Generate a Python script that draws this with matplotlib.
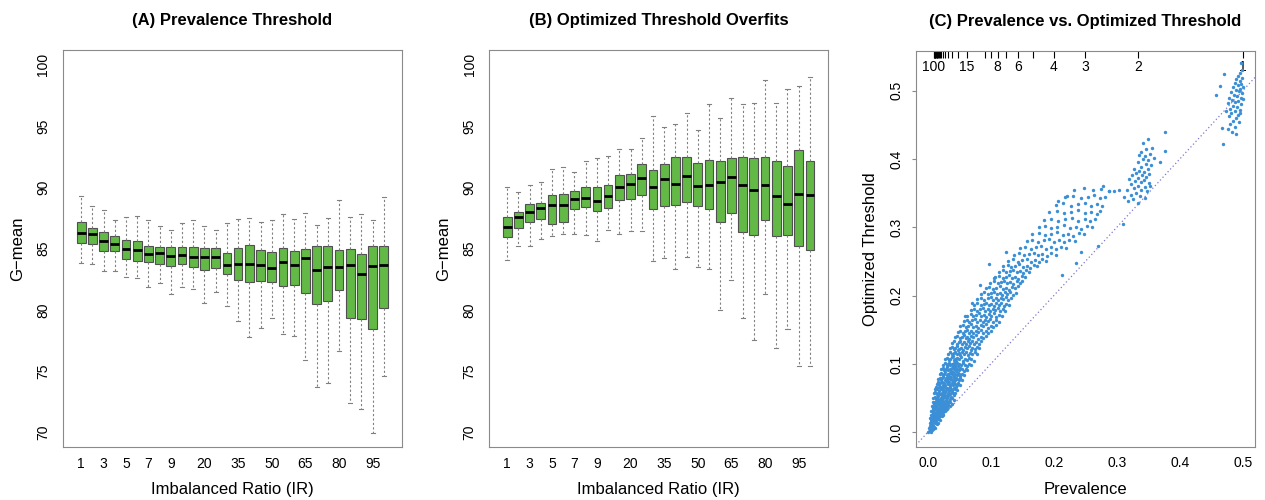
import numpy as np
import matplotlib
matplotlib.use('Agg')
import matplotlib.pyplot as plt

plt.rcParams['font.family'] = ['Liberation Sans', 'DejaVu Sans']

# imbalance ratios, one box per value
ir_values = [1, 2, 3, 4, 5, 6, 7, 8, 9, 10, 15, 20, 25, 30, 35, 40, 45, 50,
             55, 60, 65, 70, 75, 80, 85, 90, 95, 100]
ir_shown = [1, 3, 5, 7, 9, 20, 35, 50, 65, 80, 95]
top_shown = [100, 15, 8, 6, 4, 3, 2, 1]

# (A) prevalence threshold: G-mean box stats
hi_a = [89.29, 88.50, 88.15, 87.30, 87.60, 87.66, 87.30, 86.80, 86.47, 87.07, 87.34, 86.80, 86.50, 87.07,
        87.40, 87.50, 87.15, 87.30, 87.85, 87.40, 87.90, 86.93, 87.45, 88.94, 87.53, 87.80, 87.30, 89.20]
q3_a = [87.17, 86.71, 86.36, 86.06, 85.73, 85.62, 85.24, 85.14, 85.14, 85.14, 85.14, 85.05, 85.05, 84.65,
        85.05, 85.32, 84.86, 84.70, 85.08, 84.81, 85.00, 85.19, 85.19, 84.86, 84.92, 84.59, 85.24, 85.19]
med_a = [86.30, 86.20, 85.65, 85.38, 84.92, 84.89, 84.54, 84.60, 84.38, 84.49, 84.32, 84.27, 84.32, 83.65,
         83.76, 83.76, 83.62, 83.41, 83.86, 83.65, 84.24, 83.24, 83.49, 83.51, 83.62, 82.95, 83.54, 83.68]
q1_a = [85.46, 85.35, 84.81, 84.76, 84.11, 84.00, 83.86, 83.76, 83.59, 83.76, 83.51, 83.22, 83.41, 82.92,
        82.43, 82.24, 82.32, 82.24, 81.95, 82.00, 81.35, 80.49, 80.70, 81.59, 79.35, 79.24, 78.46, 80.11]
lo_a = [83.78, 83.76, 83.19, 83.19, 82.68, 82.57, 81.84, 82.19, 81.30, 81.86, 81.73, 80.54, 81.41, 80.30,
        79.10, 77.81, 78.51, 79.32, 78.03, 77.89, 75.86, 73.68, 74.05, 76.65, 72.41, 71.89, 69.97, 74.59]

# (B) optimized threshold: G-mean box stats
hi_b = [90.00, 89.59, 90.16, 90.41, 91.47, 91.68, 91.22, 92.17, 92.42, 92.55, 93.15, 93.10, 94.00, 95.82,
        94.92, 95.19, 96.06, 94.70, 96.82, 95.68, 97.26, 96.77, 96.85, 98.72, 96.85, 97.99, 98.29, 99.02]
q3_b = [87.58, 87.99, 88.64, 88.75, 89.35, 89.46, 89.73, 90.05, 90.03, 90.22, 90.98, 91.11, 91.93, 91.44,
        91.93, 92.50, 92.50, 91.98, 92.23, 92.17, 92.42, 92.50, 92.39, 92.47, 92.15, 91.71, 93.04, 92.15]
med_b = [86.79, 87.55, 87.99, 88.32, 88.53, 88.59, 89.08, 89.10, 88.91, 89.32, 90.03, 90.30, 90.73, 90.05,
         90.65, 90.30, 90.95, 90.08, 90.19, 90.43, 90.87, 90.16, 89.78, 90.22, 89.27, 88.64, 89.43, 89.38]
q1_b = [85.95, 86.71, 87.17, 87.39, 86.96, 87.17, 88.21, 88.37, 88.07, 88.32, 88.99, 89.02, 89.35, 88.26,
        88.48, 88.56, 88.83, 88.45, 88.21, 87.15, 87.93, 86.33, 86.09, 87.31, 85.98, 86.09, 85.24, 84.86]
lo_b = [84.03, 85.19, 85.19, 85.78, 86.05, 86.22, 86.22, 86.08, 85.59, 86.47, 86.17, 86.44, 86.44, 83.97,
        84.22, 83.30, 84.32, 83.51, 83.30, 79.95, 82.43, 79.30, 77.57, 81.32, 76.84, 78.46, 75.43, 75.43]

# (C) prevalence vs optimized threshold, (prevalence, threshold)
pts_ir1 = [(0.497, 0.540), (0.499, 0.531), (0.496, 0.526), (0.493, 0.522), (0.499, 0.519), (0.490, 0.517),
           (0.495, 0.514), (0.487, 0.512), (0.498, 0.510), (0.492, 0.508), (0.484, 0.506), (0.496, 0.503),
           (0.489, 0.501), (0.494, 0.499), (0.481, 0.498), (0.499, 0.496), (0.486, 0.494), (0.491, 0.492),
           (0.478, 0.490), (0.497, 0.489), (0.483, 0.487), (0.493, 0.485), (0.488, 0.483), (0.476, 0.482),
           (0.498, 0.480), (0.485, 0.478), (0.491, 0.476), (0.480, 0.474), (0.495, 0.472), (0.487, 0.470),
           (0.482, 0.467), (0.492, 0.465), (0.478, 0.463), (0.489, 0.460), (0.484, 0.456), (0.494, 0.454),
           (0.480, 0.451), (0.488, 0.447), (0.476, 0.444), (0.467, 0.446), (0.468, 0.422), (0.464, 0.507),
           (0.458, 0.494), (0.470, 0.525), (0.473, 0.470), (0.490, 0.437), (0.483, 0.439), (0.496, 0.468),
           (0.500, 0.505), (0.500, 0.488)]
pts_ir2 = [(0.350, 0.430), (0.342, 0.423), (0.356, 0.416), (0.347, 0.414), (0.338, 0.410), (0.353, 0.408),
           (0.336, 0.406), (0.345, 0.404), (0.359, 0.402), (0.341, 0.400), (0.350, 0.398), (0.368, 0.395),
           (0.333, 0.396), (0.346, 0.393), (0.355, 0.391), (0.339, 0.388), (0.328, 0.386), (0.349, 0.385),
           (0.336, 0.383), (0.344, 0.381), (0.331, 0.379), (0.352, 0.378), (0.325, 0.377), (0.340, 0.376),
           (0.347, 0.374), (0.334, 0.372), (0.320, 0.371), (0.343, 0.369), (0.329, 0.368), (0.338, 0.366),
           (0.351, 0.365), (0.323, 0.363), (0.333, 0.361), (0.345, 0.359), (0.327, 0.357), (0.339, 0.355),
           (0.316, 0.354), (0.348, 0.353), (0.331, 0.351), (0.322, 0.348), (0.337, 0.346), (0.345, 0.343),
           (0.326, 0.341), (0.318, 0.338), (0.334, 0.336), (0.312, 0.345), (0.353, 0.360),
           (0.377, 0.439), (0.377, 0.412), (0.287, 0.353), (0.296, 0.353), (0.304, 0.354), (0.310, 0.305)]
# IR 3-9: upper part of the band
pts_high = [(0.120, 0.243), (0.127, 0.245), (0.133, 0.242), (0.139, 0.244), (0.145, 0.246), (0.151, 0.242),
            (0.157, 0.244), (0.163, 0.241), (0.169, 0.245), (0.174, 0.243), (0.128, 0.251), (0.136, 0.253),
            (0.143, 0.250), (0.150, 0.252), (0.157, 0.254), (0.164, 0.250), (0.170, 0.252), (0.176, 0.249),
            (0.182, 0.253), (0.188, 0.251), (0.137, 0.260), (0.145, 0.262), (0.153, 0.259), (0.161, 0.261),
            (0.168, 0.263), (0.175, 0.259), (0.182, 0.261), (0.189, 0.258), (0.196, 0.262), (0.203, 0.260),
            (0.146, 0.270), (0.155, 0.272), (0.164, 0.269), (0.172, 0.271), (0.180, 0.273), (0.188, 0.269),
            (0.196, 0.271), (0.204, 0.268), (0.212, 0.272), (0.219, 0.270), (0.157, 0.280), (0.166, 0.282),
            (0.175, 0.279), (0.184, 0.281), (0.193, 0.283), (0.201, 0.279), (0.209, 0.281), (0.217, 0.278),
            (0.225, 0.282), (0.233, 0.280), (0.166, 0.290), (0.176, 0.292), (0.186, 0.289), (0.196, 0.291),
            (0.205, 0.293), (0.214, 0.289), (0.222, 0.291), (0.231, 0.288), (0.240, 0.292), (0.248, 0.290),
            (0.176, 0.300), (0.186, 0.302), (0.196, 0.299), (0.206, 0.301), (0.216, 0.303), (0.226, 0.299),
            (0.235, 0.301), (0.244, 0.298), (0.253, 0.302), (0.260, 0.300), (0.185, 0.311), (0.196, 0.313),
            (0.207, 0.310), (0.218, 0.312), (0.229, 0.314), (0.239, 0.310), (0.249, 0.312), (0.258, 0.309),
            (0.266, 0.313), (0.193, 0.322), (0.205, 0.324), (0.217, 0.321), (0.228, 0.323), (0.239, 0.325),
            (0.249, 0.321), (0.259, 0.323), (0.268, 0.320), (0.273, 0.324), (0.203, 0.333), (0.215, 0.335),
            (0.227, 0.332), (0.238, 0.334), (0.249, 0.336), (0.259, 0.332), (0.268, 0.334), (0.277, 0.331),
            (0.218, 0.344), (0.231, 0.346), (0.243, 0.343), (0.254, 0.345), (0.264, 0.347), (0.273, 0.343),
            (0.282, 0.345), (0.232, 0.355), (0.248, 0.357), (0.262, 0.354), (0.275, 0.356), (0.287, 0.353),
            (0.278, 0.361)]
# IR 5-20: middle part of the band
pts_mid = [(0.028, 0.107), (0.031, 0.109), (0.034, 0.106), (0.036, 0.108), (0.038, 0.110), (0.041, 0.106),
           (0.043, 0.108), (0.045, 0.105), (0.047, 0.109), (0.050, 0.107), (0.053, 0.110), (0.056, 0.105),
           (0.059, 0.108), (0.062, 0.106), (0.065, 0.109), (0.069, 0.107), (0.073, 0.105), (0.040, 0.112),
           (0.032, 0.115), (0.035, 0.117), (0.038, 0.114), (0.041, 0.116), (0.043, 0.118), (0.046, 0.114),
           (0.049, 0.116), (0.052, 0.113), (0.055, 0.117), (0.058, 0.115), (0.061, 0.118), (0.064, 0.113),
           (0.067, 0.116), (0.071, 0.114), (0.075, 0.117), (0.078, 0.115), (0.048, 0.120), (0.035, 0.123),
           (0.038, 0.125), (0.041, 0.122), (0.044, 0.124), (0.047, 0.126), (0.050, 0.122), (0.053, 0.124),
           (0.056, 0.121), (0.059, 0.125), (0.062, 0.123), (0.065, 0.126), (0.068, 0.121), (0.071, 0.124),
           (0.075, 0.122), (0.079, 0.125), (0.082, 0.123), (0.039, 0.131), (0.042, 0.133), (0.046, 0.130),
           (0.049, 0.132), (0.052, 0.134), (0.055, 0.130), (0.058, 0.132), (0.061, 0.129), (0.064, 0.133),
           (0.067, 0.131), (0.070, 0.134), (0.073, 0.129), (0.077, 0.132), (0.081, 0.130), (0.085, 0.133),
           (0.044, 0.139), (0.047, 0.141), (0.051, 0.138), (0.054, 0.140), (0.057, 0.142), (0.060, 0.138),
           (0.063, 0.140), (0.066, 0.137), (0.069, 0.141), (0.072, 0.139), (0.076, 0.142), (0.080, 0.137),
           (0.084, 0.140), (0.088, 0.138), (0.092, 0.141), (0.048, 0.147), (0.052, 0.149), (0.056, 0.146),
           (0.059, 0.148), (0.062, 0.150), (0.066, 0.146), (0.069, 0.148), (0.072, 0.145), (0.076, 0.149),
           (0.080, 0.147), (0.084, 0.150), (0.088, 0.145), (0.092, 0.148), (0.096, 0.146), (0.100, 0.149),
           (0.052, 0.155), (0.056, 0.157), (0.060, 0.154), (0.064, 0.156), (0.068, 0.158), (0.072, 0.154),
           (0.076, 0.156), (0.080, 0.153), (0.084, 0.157), (0.088, 0.155), (0.092, 0.158), (0.096, 0.153),
           (0.100, 0.156), (0.104, 0.154), (0.108, 0.157), (0.057, 0.163), (0.062, 0.165), (0.066, 0.162),
           (0.070, 0.164), (0.075, 0.166), (0.079, 0.162), (0.083, 0.164), (0.087, 0.161), (0.091, 0.165),
           (0.095, 0.163), (0.099, 0.166), (0.103, 0.161), (0.108, 0.164), (0.113, 0.162), (0.063, 0.171),
           (0.068, 0.173), (0.072, 0.170), (0.077, 0.172), (0.081, 0.174), (0.085, 0.170), (0.089, 0.172),
           (0.093, 0.169), (0.097, 0.173), (0.101, 0.171), (0.105, 0.174), (0.109, 0.169), (0.113, 0.172),
           (0.118, 0.170), (0.068, 0.179), (0.073, 0.181), (0.078, 0.178), (0.083, 0.180), (0.087, 0.182),
           (0.091, 0.178), (0.095, 0.180), (0.099, 0.177), (0.103, 0.181), (0.107, 0.179), (0.111, 0.182),
           (0.115, 0.177), (0.119, 0.180), (0.123, 0.178), (0.074, 0.187), (0.079, 0.189), (0.084, 0.186),
           (0.089, 0.188), (0.093, 0.190), (0.097, 0.186), (0.101, 0.188), (0.105, 0.185), (0.109, 0.189),
           (0.113, 0.187), (0.117, 0.190), (0.121, 0.185), (0.125, 0.188), (0.129, 0.186), (0.079, 0.195),
           (0.085, 0.197), (0.090, 0.194), (0.095, 0.196), (0.100, 0.198), (0.104, 0.194), (0.108, 0.196),
           (0.112, 0.193), (0.116, 0.197), (0.120, 0.195), (0.124, 0.198), (0.128, 0.193), (0.133, 0.196),
           (0.084, 0.203), (0.090, 0.205), (0.095, 0.202), (0.100, 0.204), (0.105, 0.206), (0.110, 0.202),
           (0.114, 0.204), (0.118, 0.201), (0.122, 0.205), (0.126, 0.203), (0.130, 0.206), (0.135, 0.201),
           (0.140, 0.204), (0.092, 0.211), (0.098, 0.213), (0.104, 0.210), (0.109, 0.212), (0.114, 0.214),
           (0.119, 0.210), (0.124, 0.212), (0.129, 0.209), (0.134, 0.213), (0.139, 0.211), (0.144, 0.214),
           (0.099, 0.219), (0.105, 0.221), (0.111, 0.218), (0.116, 0.220), (0.121, 0.222), (0.126, 0.218),
           (0.131, 0.220), (0.136, 0.217), (0.141, 0.221), (0.146, 0.219), (0.150, 0.222), (0.107, 0.227),
           (0.113, 0.229), (0.119, 0.226), (0.124, 0.228), (0.129, 0.230), (0.134, 0.226), (0.139, 0.228),
           (0.144, 0.225), (0.149, 0.229), (0.154, 0.227), (0.113, 0.235), (0.119, 0.237), (0.125, 0.234),
           (0.131, 0.236), (0.136, 0.238), (0.141, 0.234), (0.146, 0.236), (0.151, 0.233), (0.156, 0.237),
           (0.161, 0.235)]
# IR 15-100: dense low-prevalence blob
pts_low = [(0.001, 0.001), (0.003, 0.002), (0.005, 0.000), (0.007, 0.003), (0.004, 0.004), (0.002, 0.007),
           (0.004, 0.009), (0.006, 0.006), (0.008, 0.010), (0.010, 0.008), (0.012, 0.007), (0.005, 0.011),
           (0.009, 0.005), (0.003, 0.013), (0.005, 0.016), (0.007, 0.012), (0.009, 0.015), (0.011, 0.013),
           (0.013, 0.016), (0.015, 0.012), (0.006, 0.014), (0.010, 0.017), (0.017, 0.014), (0.004, 0.021),
           (0.006, 0.019), (0.008, 0.022), (0.010, 0.020), (0.012, 0.018), (0.014, 0.021), (0.016, 0.019),
           (0.018, 0.022), (0.020, 0.018), (0.007, 0.017), (0.013, 0.023), (0.011, 0.021), (0.005, 0.026),
           (0.007, 0.024), (0.009, 0.027), (0.011, 0.025), (0.013, 0.028), (0.015, 0.024), (0.017, 0.027),
           (0.019, 0.025), (0.021, 0.028), (0.023, 0.024), (0.025, 0.026), (0.012, 0.023), (0.016, 0.029),
           (0.008, 0.029), (0.006, 0.031), (0.008, 0.033), (0.010, 0.030), (0.012, 0.034), (0.014, 0.031),
           (0.016, 0.033), (0.018, 0.030), (0.020, 0.034), (0.022, 0.032), (0.024, 0.030), (0.026, 0.033),
           (0.028, 0.031), (0.030, 0.034), (0.013, 0.029), (0.019, 0.032), (0.007, 0.038), (0.009, 0.036),
           (0.011, 0.039), (0.013, 0.037), (0.015, 0.040), (0.017, 0.036), (0.019, 0.039), (0.021, 0.037),
           (0.023, 0.040), (0.025, 0.038), (0.027, 0.036), (0.029, 0.039), (0.031, 0.037), (0.033, 0.040),
           (0.035, 0.038), (0.018, 0.041), (0.024, 0.035), (0.008, 0.044), (0.010, 0.042), (0.012, 0.045),
           (0.014, 0.043), (0.016, 0.046), (0.018, 0.042), (0.020, 0.045), (0.022, 0.043), (0.024, 0.046),
           (0.026, 0.044), (0.028, 0.042), (0.030, 0.045), (0.032, 0.043), (0.034, 0.046), (0.036, 0.044),
           (0.038, 0.042), (0.015, 0.047), (0.021, 0.048), (0.009, 0.050), (0.011, 0.052), (0.013, 0.049),
           (0.015, 0.051), (0.017, 0.053), (0.019, 0.049), (0.021, 0.051), (0.023, 0.053), (0.025, 0.050),
           (0.027, 0.052), (0.029, 0.048), (0.031, 0.051), (0.033, 0.053), (0.035, 0.049), (0.037, 0.052),
           (0.039, 0.050), (0.041, 0.048), (0.026, 0.055), (0.010, 0.057), (0.012, 0.059), (0.014, 0.056),
           (0.016, 0.058), (0.018, 0.060), (0.020, 0.056), (0.022, 0.058), (0.024, 0.061), (0.026, 0.057),
           (0.028, 0.059), (0.030, 0.055), (0.032, 0.058), (0.034, 0.060), (0.036, 0.056), (0.038, 0.059),
           (0.040, 0.057), (0.042, 0.055), (0.044, 0.058), (0.011, 0.064), (0.013, 0.066), (0.015, 0.063),
           (0.017, 0.065), (0.019, 0.067), (0.021, 0.063), (0.023, 0.066), (0.025, 0.064), (0.027, 0.067),
           (0.029, 0.062), (0.031, 0.065), (0.033, 0.063), (0.035, 0.066), (0.037, 0.064), (0.039, 0.062),
           (0.041, 0.065), (0.043, 0.063), (0.045, 0.066), (0.047, 0.062), (0.014, 0.071), (0.016, 0.073),
           (0.018, 0.070), (0.020, 0.072), (0.022, 0.074), (0.024, 0.070), (0.026, 0.072), (0.028, 0.069),
           (0.030, 0.073), (0.032, 0.071), (0.034, 0.074), (0.036, 0.069), (0.038, 0.072), (0.040, 0.070),
           (0.042, 0.073), (0.044, 0.071), (0.046, 0.069), (0.048, 0.072), (0.051, 0.070), (0.016, 0.078),
           (0.019, 0.080), (0.021, 0.077), (0.023, 0.079), (0.025, 0.081), (0.027, 0.077), (0.029, 0.079),
           (0.031, 0.076), (0.033, 0.080), (0.035, 0.078), (0.037, 0.081), (0.039, 0.076), (0.041, 0.079),
           (0.043, 0.077), (0.045, 0.080), (0.047, 0.078), (0.049, 0.076), (0.051, 0.079), (0.054, 0.077),
           (0.019, 0.085), (0.021, 0.087), (0.024, 0.084), (0.026, 0.086), (0.028, 0.088), (0.030, 0.084),
           (0.032, 0.086), (0.034, 0.083), (0.036, 0.087), (0.038, 0.085), (0.040, 0.088), (0.042, 0.083),
           (0.044, 0.086), (0.046, 0.084), (0.048, 0.087), (0.050, 0.085), (0.052, 0.083), (0.055, 0.086),
           (0.058, 0.084), (0.021, 0.092), (0.024, 0.094), (0.026, 0.091), (0.029, 0.093), (0.031, 0.095),
           (0.033, 0.091), (0.035, 0.093), (0.037, 0.090), (0.039, 0.094), (0.041, 0.092), (0.043, 0.095),
           (0.045, 0.090), (0.047, 0.093), (0.049, 0.091), (0.051, 0.094), (0.054, 0.092), (0.057, 0.090),
           (0.060, 0.093), (0.063, 0.091), (0.024, 0.099), (0.027, 0.101), (0.030, 0.098), (0.032, 0.100),
           (0.034, 0.102), (0.036, 0.098), (0.038, 0.100), (0.040, 0.097), (0.042, 0.101), (0.044, 0.099),
           (0.046, 0.102), (0.048, 0.097), (0.050, 0.100), (0.053, 0.098), (0.056, 0.101), (0.059, 0.099),
           (0.062, 0.097), (0.066, 0.100), (0.069, 0.098)]
# scattered points away from the band
pts_stray = [(0.124, 0.264), (0.106, 0.226), (0.097, 0.246), (0.236, 0.248), (0.213, 0.230), (0.271, 0.273),
             (0.244, 0.264), (0.083, 0.215), (0.071, 0.190), (0.059, 0.170), (0.221, 0.346), (0.207, 0.339)]

box_green = '#63b946'
frame_gray = '#8a8a8a'
dot_blue = '#3a8fd6'


def draw_boxes(ax, lo, q1, med, q3, hi):
    stats = [dict(whislo=a, q1=b, med=c, q3=d, whishi=e, fliers=[])
             for a, b, c, d, e in zip(lo, q1, med, q3, hi)]
    ax.bxp(stats, positions=range(1, len(stats) + 1), widths=0.78, patch_artist=True,
           showfliers=False, capwidths=0.36,
           boxprops=dict(facecolor=box_green, edgecolor='#505050', linewidth=0.8),
           medianprops=dict(color='black', linewidth=2.0),
           whiskerprops=dict(color='#808080', linewidth=0.8, linestyle=(0, (2, 2))),
           capprops=dict(color='#808080', linewidth=0.8))
    ax.set_xlim(-0.62, len(stats) + 1.62)
    ax.set_ylim(68.8, 101.2)
    ax.set_yticks([70, 75, 80, 85, 90, 95, 100])
    ax.set_yticklabels(['70', '75', '80', '85', '90', '95', '100'], rotation=90, va='center')
    pos = [ir_values.index(v) + 1 for v in ir_shown]
    ax.set_xticks(pos)
    ax.set_xticklabels([str(v) for v in ir_shown])
    ax.tick_params(axis='x', length=0, pad=7, labelsize=10)
    ax.tick_params(axis='y', length=0, pad=9, labelsize=10)
    ax.set_xlabel('Imbalanced Ratio (IR)', fontsize=12, labelpad=8)
    ax.set_ylabel('G\u2212mean', fontsize=12, labelpad=8)
    for s in ax.spines.values():
        s.set_color(frame_gray)


fig = plt.figure(figsize=(12.65, 5.0), dpi=100)

ax1 = fig.add_axes([0.0498, 0.106, 0.268, 0.794])
draw_boxes(ax1, lo_a, q1_a, med_a, q3_a, hi_a)
ax1.set_title('(A) Prevalence Threshold', fontsize=12, fontweight='bold', pad=18)

ax2 = fig.add_axes([0.3866, 0.106, 0.268, 0.794])
draw_boxes(ax2, lo_b, q1_b, med_b, q3_b, hi_b)
ax2.set_title('(B) Optimized Threshold Overfits', fontsize=12, fontweight='bold', pad=18)

# panel C
ax3 = fig.add_axes([0.7241, 0.1066, 0.268, 0.792])
pts = np.array(pts_low + pts_mid + pts_high + pts_stray + pts_ir2 + pts_ir1)
ax3.scatter(pts[:, 0], pts[:, 1], s=6, color=dot_blue, linewidths=0, zorder=3)
ax3.axline((0, 0), slope=1, color='#7a7ad0', linewidth=0.9, linestyle=(0, (1, 2)), zorder=2)
ax3.set_xlim(-0.0186, 0.5195)
ax3.set_ylim(-0.021, 0.5586)
ax3.set_xticks([0.0, 0.1, 0.2, 0.3, 0.4, 0.5])
ax3.set_xticklabels(['0.0', '0.1', '0.2', '0.3', '0.4', '0.5'])
ax3.set_yticks([0.0, 0.1, 0.2, 0.3, 0.4, 0.5])
ax3.set_yticklabels(['0.0', '0.1', '0.2', '0.3', '0.4', '0.5'], rotation=90, va='center')
ax3.tick_params(axis='x', length=0, pad=7, labelsize=10)
ax3.tick_params(axis='y', length=3, width=0.8, color=frame_gray, pad=6, labelsize=10)
ax3.set_xlabel('Prevalence', fontsize=12, labelpad=8)
ax3.set_ylabel('Optimized Threshold', fontsize=12, labelpad=8)
ax3.set_title('(C) Prevalence vs. Optimized Threshold', fontsize=12, fontweight='bold', pad=18)
for s in ax3.spines.values():
    s.set_color(frame_gray)

# IR scale along the top, drawn inside the frame
top = ax3.secondary_xaxis('top')
top_pos = [1.0 / (1 + v) for v in ir_values]
top.set_xticks(top_pos)
top.set_xticklabels([str(v) if v in top_shown else '' for v in ir_values])
top.tick_params(direction='in', length=5, width=0.8, color='black', pad=-17, labelsize=10)
top.spines['top'].set_visible(False)

fig.savefig('out.png', dpi=100)
